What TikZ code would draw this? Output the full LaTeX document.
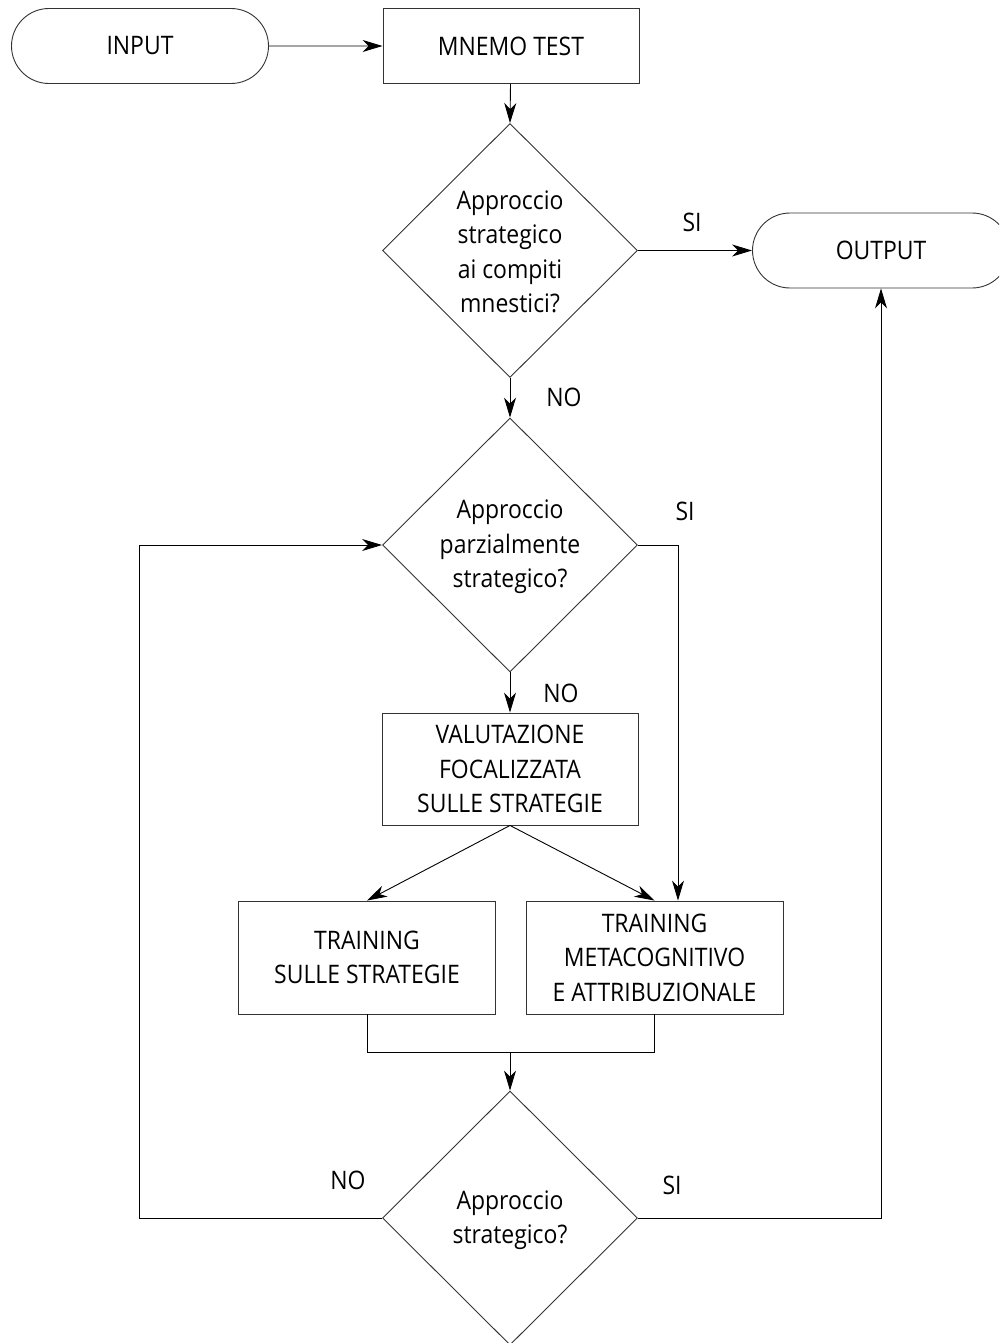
\documentclass[tikz,border=0pt]{standalone}
\usepackage{fontspec}
\setmainfont{Open Sans}[FakeStretch=0.9]
\usetikzlibrary{shapes.geometric,shapes.misc,arrows.meta}
\begin{document}
\begin{tikzpicture}[x=1pt,y=-1pt,
  every node/.style={font=\fontsize{25.5}{34.5}\selectfont, align=center},
  box/.style={draw=black!80, line width=0.9pt, rectangle, minimum width=256pt, minimum height=75pt, inner sep=0pt},
  term/.style={draw=black!80, line width=0.9pt, rounded rectangle, minimum width=257pt, minimum height=75pt, inner sep=0pt},
  dec/.style={draw=black!80, line width=0.9pt, diamond, minimum width=255pt, minimum height=254pt, inner sep=0pt},
  lbl/.style={inner sep=0pt},
  conn/.style={line width=0.9pt, -{Stealth[length=20pt,width=12pt,inset=6pt]}},
  plain/.style={line width=0.9pt}
]
\useasboundingbox (0,0) rectangle (999,1343);
\clip (0,0) rectangle (999,1343);
% nodes
\node[term] (input) at (140,46) {INPUT};
\node[box] (mnemo) at (511,46) {MNEMO TEST};
\node[dec] (d1) at (510,250.5) {};
\node[lbl] (t1) at (510,252) {Approccio\\strategico\\ai compiti\\mnestici?};
\node[term] (output) at (881,250.5) {OUTPUT};
\node[dec] (d2) at (510,545) {};
\node[lbl] (t2) at (510,547) {Approccio\\parzialmente\\strategico?};
\node[box, minimum height=112pt] (val) at (510,769) {VALUTAZIONE\\FOCALIZZATA\\SULLE STRATEGIE};
\node[box, minimum width=257pt, minimum height=113pt] (trs) at (367,957.5) {TRAINING\\SULLE STRATEGIE};
\node[box, minimum width=257pt, minimum height=113pt] (trm) at (654.5,957.5) {TRAINING\\METACOGNITIVO\\E ATTRIBUZIONALE};
\node[dec] (d3) at (510,1218) {};
\node[lbl] (t3) at (510,1220) {Approccio\\strategico?};
% labels
\node[lbl] (si1) at (692,222) {SI};
\node[lbl] (no1) at (564,397) {NO};
\node[lbl] (si2) at (685,511) {SI};
\node[lbl] (no2) at (561,693) {NO};
\node[lbl] (no3) at (348,1180) {NO};
\node[lbl] (si3) at (672,1185) {SI};
% coordinates
\coordinate (siR) at (678,545);
\coordinate (mergeL) at (367,1052);
\coordinate (mergeR) at (654.5,1052);
\coordinate (mergeC) at (510,1052);
\coordinate (loopL) at (139,1218);
\coordinate (loopR) at (881,1218);
% connectors
\draw[conn] (input) -- (mnemo);
\draw[conn] (mnemo) -- (d1.north);
\draw[conn] (d1.east) -- (output.west);
\draw[conn] (d1.south) -- (d2.north);
\draw[conn] (d2.south) -- (val.north);
\draw[conn] (d2.east) -- (siR) -- (siR |- trm.north);
\draw[conn] (val.south) -- (trs.north);
\draw[conn] (val.south) -- (trm.north);
\draw[plain] (trs.south) -- (mergeL) -- (mergeR) -- (trm.south);
\draw[conn] (mergeC) -- (d3.north);
\draw[conn] (d3.west) -- (loopL) |- (d2.west);
\draw[conn] (d3.east) -- (loopR) -- (output.south);
\end{tikzpicture}
\end{document}
